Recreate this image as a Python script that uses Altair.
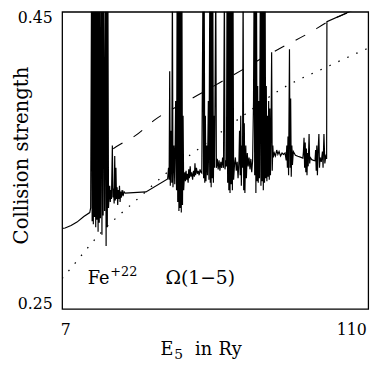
import altair as alt
import pandas as pd

T = 0.47  # resonance peaks run off the top of the frame (clipped)

# Solid curve: collision strength with resonances
SOLID_E = [
    7.0, 8.0, 10.0, 12.0, 14.3, 16.3,
    16.6, 16.9, 17.1, 17.3, 17.5, 17.7, 17.9, 18.1, 18.3, 18.5, 18.7, 18.9, 19.1, 19.3, 19.5, 19.7, 19.9,
    20.2, 20.4, 20.6, 20.8, 21.0, 21.3, 21.6, 21.8, 22.0, 22.2, 22.4, 22.6,
    22.8, 23.0, 23.2, 23.4, 23.6, 23.9, 24.1, 24.3, 24.5, 24.7, 24.9, 25.1, 25.3, 25.5, 25.7, 25.9,
    26.1, 26.3, 26.5, 26.7, 26.9, 27.2, 27.5, 27.8, 28.2,
    35.2, 42.5,
    42.8, 43.0, 43.2, 43.4, 43.7, 43.9, 44.1, 44.3, 44.6, 44.9, 45.2, 45.5, 45.7, 45.9, 46.1, 46.3,
    46.5, 46.7, 46.9, 47.1, 47.3, 47.5, 47.7, 47.9, 48.1,
    48.3, 48.5, 48.7, 48.9, 49.1, 49.4, 49.6, 49.8, 50.1, 50.3, 50.6, 50.9, 51.2, 51.5, 51.7, 51.9,
    52.2, 52.5, 52.8, 53.1, 53.4, 53.7, 54.0,
    54.4, 54.6, 54.8, 55.0, 55.2, 55.4, 55.7, 55.9, 56.2, 56.4, 56.7, 56.85, 57.0, 57.15, 57.3, 57.5,
    57.7, 57.9, 58.1, 58.3,
    58.7, 58.9, 59.2, 59.5, 59.8, 60.1, 60.4, 60.7, 61.0, 61.3, 61.6, 61.8, 62.1,
    62.3, 62.5, 62.7, 62.9, 63.1, 63.3, 63.5, 63.7, 63.9, 64.1, 64.3, 64.5, 64.7, 65.0,
    65.3, 65.6, 65.9, 66.2, 66.5,
    66.7, 66.9, 67.1, 67.3, 67.5, 67.7, 67.9, 68.1, 68.3, 68.5, 68.8, 69.0, 69.3, 69.6,
    69.9, 70.2, 70.5, 70.8, 71.1,
    71.4, 71.6, 71.8, 72.0, 72.2, 72.4, 72.6, 72.8, 73.0, 73.2, 73.4, 73.7, 73.9, 74.1, 74.3, 74.5,
    74.7, 74.9, 75.1, 75.3, 75.5, 75.7, 75.9, 76.1, 76.3, 76.5, 76.7, 76.9, 77.1, 77.3, 77.5, 77.7,
    77.9, 78.1,
    78.4, 78.8, 79.2, 79.6, 80.0, 80.5, 81.0, 81.5, 82.0,
    82.4, 82.6, 82.8, 83.0, 83.2, 83.5, 83.7, 83.9, 84.1, 84.3, 84.5, 84.8,
    85.5, 86.3, 87.2, 88.0,
    88.2, 88.4, 88.6, 88.8, 89.0, 89.2, 89.4, 89.6, 89.8, 90.1, 90.3, 90.5,
    91.0, 91.6, 92.1,
    92.3, 92.5, 92.7, 92.9, 93.1, 93.4, 93.6, 93.8,
    94.2, 94.6, 94.8, 95.1, 95.4, 95.8, 96.0, 96.1, 104.4, 110.0,
]
SOLID_OMEGA = [
    0.3043, 0.3045, 0.3062, 0.3085, 0.3122, 0.3149,
    0.318, T, 0.309, T, 0.307, T, 0.312, T, 0.305, T, 0.310, T, 0.302, T, 0.308, T, 0.311,
    T, 0.300, T, 0.313, T, 0.316, T, 0.2924, T, 0.305, T, 0.318,
    0.326, 0.333, 0.322, 0.330, 0.324, 0.360, 0.325, 0.331, 0.321, 0.353, 0.323, 0.345, 0.324, 0.332, 0.320, 0.330,
    0.324, 0.333, 0.322, 0.329, 0.325, 0.330, 0.326, 0.329, 0.328,
    0.3288, 0.3375,
    0.345, 0.337, 0.410, 0.333, 0.370, 0.335, T, 0.332, 0.360, 0.334, 0.390, 0.330, T, 0.322, T, 0.316,
    T, 0.318, T, 0.315, T, 0.320, 0.380, 0.330, 0.338,
    0.342, 0.336, 0.343, 0.337, 0.341, 0.335, 0.344, 0.338, 0.346, 0.339, 0.342, 0.337, 0.343, 0.339, 0.348, 0.340,
    0.345, 0.341, 0.343, 0.340, 0.344, 0.342, 0.3414,
    T, 0.338, T, 0.335, 0.380, 0.336, 0.360, 0.340, 0.390, 0.337, T, 0.335, T, 0.332, T, 0.338,
    T, 0.335, 0.380, 0.345,
    T, 0.345, 0.351, 0.344, 0.350, 0.343, 0.349, 0.345, 0.352, 0.345, T, 0.344, 0.350,
    0.346, T, 0.335, T, 0.330, T, 0.328, T, 0.334, T, 0.330, T, 0.337, 0.347,
    0.352, 0.343, 0.349, 0.338, 0.350,
    0.370, 0.340, 0.380, 0.333, 0.360, 0.345, T, 0.330, 0.375, 0.328, 0.360, 0.338, 0.355, 0.346,
    0.352, 0.344, 0.351, 0.342, 0.350,
    0.390, T, 0.340, T, 0.328, T, 0.336, 0.400, 0.335, 0.390, 0.338, T, 0.333, T, 0.336, T,
    0.330, T, 0.335, T, 0.338, 0.400, 0.336, 0.380, 0.339, 0.390, 0.337, 0.385, 0.340, 0.370, 0.4228, 0.343,
    0.360, 0.352,
    0.355, 0.353, 0.357, 0.354, 0.356, 0.353, 0.355, 0.354, 0.355,
    0.350, 0.360, 0.345, 0.366, 0.340, 0.4248, 0.345, 0.3917, 0.339, 0.360, 0.347, 0.356,
    0.3535, 0.3528, 0.3522, 0.3515,
    0.356, 0.3652, 0.345, 0.362, 0.342, 0.358, 0.340, 0.355, 0.346, 0.3678, 0.348, 0.352,
    0.3505, 0.3500, 0.3498,
    0.357, 0.343, 0.360, 0.340, 0.355, 0.3678, 0.345, 0.352,
    0.349, 0.356, 0.345, 0.3678, 0.348, 0.354, 0.351, 0.4433, 0.4507, 0.4556,
]

# Dashed curve
DASH_E = [24.2, 27.5, 31.5, 38.5, 48.1, 53.0, 60.0, 67.6, 74.9, 82.2, 89.8, 97.1, 104.4, 110.0]
DASH_OMEGA = [0.3579, 0.3619, 0.3665, 0.3778, 0.3889, 0.3943, 0.4023, 0.4109, 0.4195, 0.4274,
              0.4354, 0.4440, 0.4506, 0.4556]

# Dotted curve
DOT_E = [7.0, 8.7, 20.2, 33.2, 42.4, 54.0, 68.6, 80.5, 96.8, 107.7, 110.0]
DOT_OMEGA = [0.2705, 0.2745, 0.3016, 0.3255, 0.3420, 0.3593, 0.3811, 0.3977, 0.4136, 0.4235, 0.4255]

X_TICKS = [7, 110]
Y_TICKS = [0.25, 0.45]

solid_df = pd.DataFrame({"e": SOLID_E, "omega": SOLID_OMEGA, "i": range(len(SOLID_E))})
dash_df = pd.DataFrame({"e": DASH_E, "omega": DASH_OMEGA})
dot_df = pd.DataFrame({"e": DOT_E, "omega": DOT_OMEGA})

FONT = "DejaVu Serif"

X = alt.X("e:Q",
          scale=alt.Scale(domain=[7, 110], nice=False, zero=False),
          axis=alt.Axis(values=X_TICKS, format="d", title="", labelFontSize=16,
                        labelPadding=13, labelOffset=-2))
Y = alt.Y("omega:Q",
          scale=alt.Scale(domain=[0.25, 0.45], nice=False, zero=False),
          axis=alt.Axis(values=Y_TICKS, format=".2f", title="", labelFontSize=16,
                        labelPadding=10,
                        labelOffset={"condition": {"test": "datum.value > 0.4", "value": 6},
                                     "value": -6}))

solid = alt.Chart(solid_df).mark_line(color="black", strokeWidth=1.2, clip=True).encode(
    x=X, y=Y, order="i:Q")
dashed = alt.Chart(dash_df).mark_line(color="black", strokeWidth=1.1, clip=True,
                                      strokeDash=[11, 13], interpolate="monotone").encode(x=X, y=Y)
dotted = alt.Chart(dot_df).mark_line(color="black", strokeWidth=1.3, clip=True,
                                     strokeDash=[1.5, 8.5], interpolate="monotone").encode(x=X, y=Y)


def label(txt, x, y, size, angle=0, align="left"):
    return alt.Chart(pd.DataFrame({"t": [txt]})).mark_text(
        align=align, baseline="alphabetic", font=FONT, fontSize=size, color="black",
        angle=angle).encode(x=alt.value(x), y=alt.value(y), text="t:N")


texts = [
    label("Fe", 26, 277, 18),
    label("+22", 49, 268, 13),
    label("Ω(1−5)", 105, 277, 19),
    label("E", 100, 349, 18),
    label("5", 114, 353, 14),
    label("in", 135, 349, 18),
    label("Ry", 159, 349, 18),
    label("Collision strength", -35, 146, 20, angle=270, align="center"),
]

chart = alt.layer(solid, dashed, dotted, *texts).properties(
    width=311, height=302,
    padding={"left": 55, "top": 1, "right": 14, "bottom": 53},
    autosize=alt.AutoSizeParams(type="none"),
).configure_view(stroke="black", strokeWidth=1.3).configure_axis(
    domain=False, grid=False, ticks=False, tickSize=0, labelFont=FONT, labelColor="black"
)

chart.save("out.html", embed_options={"renderer": "svg", "actions": False})
